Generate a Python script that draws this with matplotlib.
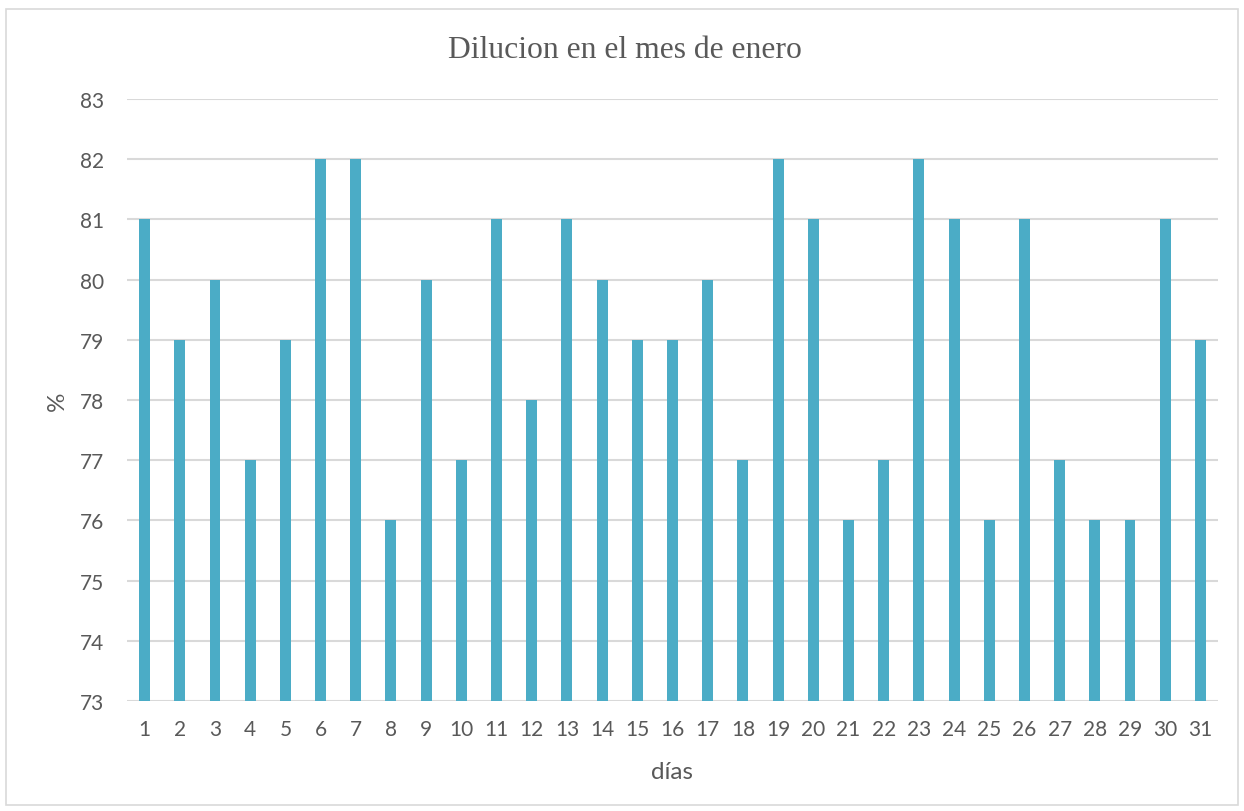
import matplotlib
matplotlib.use("Agg")
import matplotlib.pyplot as plt
from matplotlib.patches import Rectangle

days = [str(d) for d in range(1, 32)]
dilution = [81, 79, 80, 77, 79, 82, 82, 76, 80, 77, 81, 78, 81, 80, 79, 79,
            80, 77, 82, 81, 76, 77, 82, 81, 76, 81, 77, 76, 76, 81, 79]
y_ticks = list(range(73, 84))

text_color = "#595959"
grid_color = "#D9D9D9"
bar_color = "#4BACC6"

fig = plt.figure(figsize=(12.44, 8.12), dpi=100)
fig.patch.set_facecolor("white")
fig.patches.append(Rectangle((6 / 1244, 6 / 812), 1232 / 1244, 796 / 812,
                             transform=fig.transFigure, fill=False,
                             edgecolor="#D9D9D9", linewidth=1.2))

ax = fig.add_axes([127 / 1244, 1 - 702 / 812, 1091 / 1244, 602 / 812])
x = list(range(len(days)))
ax.bar(x, [v - 73 for v in dilution], bottom=73, width=0.31, color=bar_color,
       zorder=3)

ax.set_xlim(-0.5, len(days) - 0.5)
ax.set_ylim(73, 83)
ax.set_yticks(y_ticks)
ax.set_xticks(x)
ax.set_xticklabels(days)
ax.grid(axis="y", color=grid_color, linewidth=1.5, zorder=0)
ax.set_axisbelow(True)
for s in ax.spines.values():
    s.set_visible(False)
ax.tick_params(axis="both", length=0, labelsize=15, labelcolor=text_color)
ax.tick_params(axis="x", pad=13)
ax.tick_params(axis="y", pad=16.5)
for lbl in ax.get_xticklabels() + ax.get_yticklabels():
    lbl.set_fontfamily("Lato")

ax.set_xlabel("días", fontsize=17.5, color=text_color, family="Lato",
              va="center")
ax.xaxis.set_label_coords(0.5, -(773 - 702) / 602)
ax.set_ylabel("%", fontsize=17.5, color=text_color, family="Lato",
              va="center")
ax.yaxis.set_label_coords((57 - 127) / 1091, 0.5)
fig.text(625 / 1244, 1 - 50 / 812, "Dilucion en el mes de enero",
         ha="center", va="center", fontsize=22.8, color=text_color,
         family="Liberation Serif")

fig.savefig("out.png", dpi=100, facecolor="white")
